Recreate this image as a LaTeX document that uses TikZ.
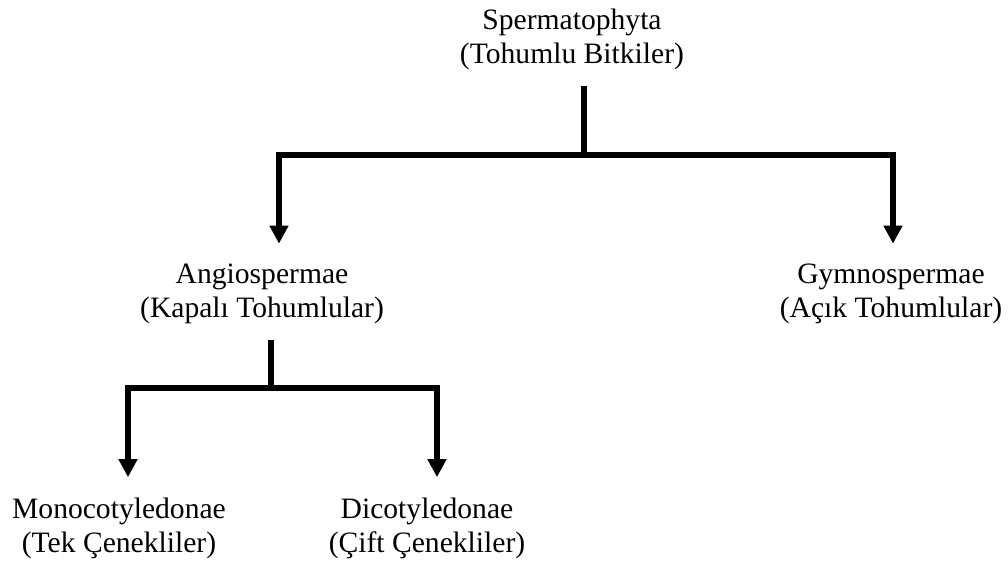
\documentclass[tikz,border=0pt]{standalone}
\usepackage{fontspec}
\setmainfont{Liberation Serif}
\usetikzlibrary{arrows.meta}

\begin{document}
\begin{tikzpicture}[x=0.5pt,y=-0.5pt]
    \tikzstyle{taxon}=[inner sep=0pt,align=center,font=\fontsize{14.8}{17}\selectfont]
    \tikzstyle{branch}=[line width=2.7pt]
    \tikzstyle{down}=[branch,-{Triangle[length=9pt,width=9pt]},shorten >=10pt]
    \useasboundingbox (0,0) rectangle (1008,566);
    % groups
    \node[taxon] (sperm) at (572,39) {Spermatophyta\\(Tohumlu Bitkiler)};
    \node[taxon] (angio) at (262,294) {Angiospermae\\(Kapalı Tohumlular)};
    \node[taxon] (gymno) at (891,294) {Gymnospermae\\(Açık Tohumlular)};
    \node[taxon] (mono) at (119,528) {Monocotyledonae\\(Tek Çenekliler)};
    \node[taxon] (dico) at (427,528) {Dicotyledonae\\(Çift Çenekliler)};
    % forks
    \coordinate (fork1) at (584,155);
    \coordinate (fork2) at (271,388);
    \draw[branch,shorten <=8pt] (sperm.south -| fork1) -- (fork1);
    \draw[down] (fork1) -| ([xshift=8.5pt]angio.north);
    \draw[down] (fork1) -| ([xshift=1pt]gymno.north);
    \draw[branch,shorten <=8pt] (angio.south -| fork2) -- (fork2);
    \draw[down] (fork2) -| ([xshift=4.5pt]mono.north);
    \draw[down] (fork2) -| ([xshift=5pt]dico.north);
\end{tikzpicture}
\end{document}
